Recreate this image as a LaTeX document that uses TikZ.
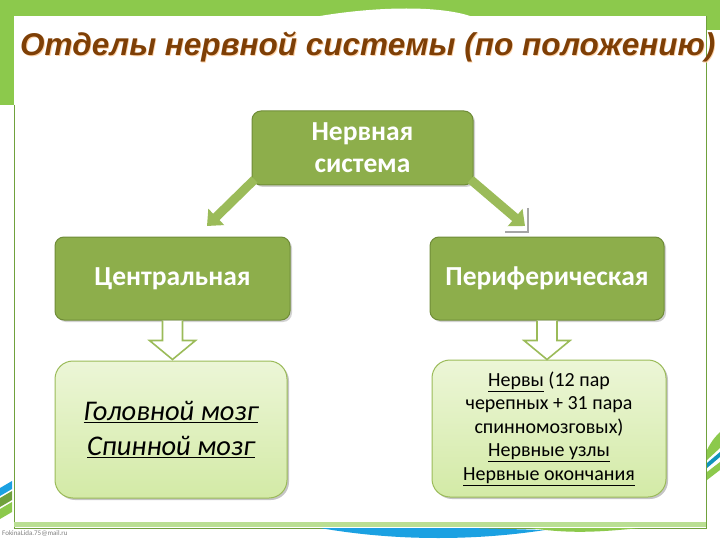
\documentclass[tikz,border=0pt]{standalone}
\usepackage{fontspec}
\setmainfont{Carlito}
\newfontfamily\titlefont{Liberation Sans}
\usetikzlibrary{arrows.meta,shadows}
\definecolor{topgreen}{HTML}{8CC94C}
\definecolor{boxgreen}{HTML}{8DAE4B}
\definecolor{boxedge}{HTML}{6F8C38}
\definecolor{lightfill}{HTML}{E4F2C6}
\definecolor{lightfill2}{HTML}{D3EAA6}
\definecolor{lightedge}{HTML}{9BBB59}
\definecolor{titlebrown}{HTML}{7E3F06}
\definecolor{swblue}{HTML}{1BA1E2}
\tikzset{
  darkbox/.style={draw=boxedge, line width=1pt, fill=boxgreen, rounded corners=9pt,
    text=white, align=center, font=\bfseries\fontsize{27.5}{32}\selectfont,
    drop shadow={shadow xshift=2pt, shadow yshift=-2pt, opacity=0.35}},
  lightbox/.style={draw=lightedge, line width=1pt, top color=lightfill!70!white, bottom color=lightfill2,
    rounded corners=18pt, align=center,
    drop shadow={shadow xshift=2pt, shadow yshift=-2pt, opacity=0.45}},
  diagarrow/.style={draw=lightedge, line width=9pt, -{Triangle[width=22pt,length=13pt]}},
  blockarrow/.style={draw=lightedge, line width=1.6pt, fill=white, line join=miter},
}
\newcommand{\downblock}[1]{%
  \path[blockarrow] (#1) ++(-10,0) -- ++(0,20) -- ++(-13,0) -- ++(23,19) -- ++(23,-19) -- ++(-13,0) -- ++(0,-20);}
\begin{document}
\begin{tikzpicture}[x=1pt,y=-1pt]
\useasboundingbox (0,0) rectangle (720,540);
% background
\fill[white] (0,0) rectangle (720,540);
\fill[topgreen] (0,0) rectangle (720,16);
\fill[topgreen] (0,0) rectangle (14,105);
\fill[topgreen] (706,0) rectangle (720,30);
\fill[white] (320,16) .. controls (380,6) and (440,6) .. (470,16) -- cycle;
% panel
\draw[topgreen!80!black, line width=1pt] (14,105) -- (14,528) -- (706,528) -- (706,16);
\fill[topgreen!60!white] (14,522) rectangle (706,527);
% bottom swooshes
\fill[swblue] (320,528) .. controls (400,542) and (480,540) .. (545,530) -- (470,528) -- cycle;
\fill[topgreen] (530,528) .. controls (570,534) and (600,532) .. (640,528) -- cycle;
% left corner stripes
\fill[swblue] (0,488) -- (12,481) -- (12,489) -- (0,496) -- cycle;
\fill[topgreen!80!black] (0,498) -- (12,491) -- (12,500) -- (0,507) -- cycle;
\fill[topgreen] (0,509) -- (12,502) -- (12,512) -- (0,519) -- cycle;
% right stripes
\fill[topgreen] (707,450) .. controls (712,440) and (716,436) .. (720,432) -- (720,448) -- (707,460) -- cycle;
\fill[swblue!60!teal] (707,463) -- (720,452) -- (720,457) -- (707,468) -- cycle;
\fill[topgreen] (707,472) -- (720,462) -- (720,470) -- (707,480) -- cycle;
% footer
\node[anchor=west, inner sep=0pt, text=gray, font=\fontsize{7}{8}\selectfont] (footer) at (2,533) {FokinaLida.75@mail.ru};
% title
\node[anchor=base west, inner sep=0pt, text=orange!35, font=\titlefont\bfseries\itshape\fontsize{31.5}{38}\selectfont] (titleglow) at (20.8,56.8) {Отделы нервной системы (по положению)};
\node[anchor=base west, inner sep=0pt, text=titlebrown, font=\titlefont\bfseries\itshape\fontsize{31.5}{38}\selectfont] (title) at (20,56) {Отделы нервной системы (по положению)};
% nodes
\node[darkbox, minimum width=221pt, minimum height=74pt] (ns) at (362.5,148) {Нервная\\система};
\node[darkbox, minimum width=235pt, minimum height=83pt] (cen) at (172.5,278.5) {Центральная};
\node[darkbox, minimum width=234pt, minimum height=83pt] (per) at (547,278.5) {Периферическая};
\node[lightbox, minimum width=232pt, minimum height=137pt, font=\fontsize{28.5}{34.5}\selectfont\itshape] (brain) at (171,429.5) {\underline{Головной мозг}\\\underline{Спинной мозг}};
\node[lightbox, minimum width=234pt, minimum height=137pt, font=\fontsize{20}{23.5}\selectfont] (nerves) at (549,428.5) {\underline{Нервы} (12 пар\\черепных + 31 пара\\спинномозговых)\\\underline{Нервные узлы}\\\underline{Нервные окончания}};
% connectors
\coordinate (lt) at (207,226);
\coordinate (rt) at (525,226);
\draw[diagarrow] (ns.south west) ++(3,-6) coordinate (ls) -- (lt);
\draw[diagarrow] (ns.south east) ++(-3,-6) coordinate (rs) -- (rt);
\draw[gray!70, line width=1.2pt] (528,208) -- (528,232) -- (505,232);
\downblock{cen.south}
\downblock{per.south}
\end{tikzpicture}
\end{document}
